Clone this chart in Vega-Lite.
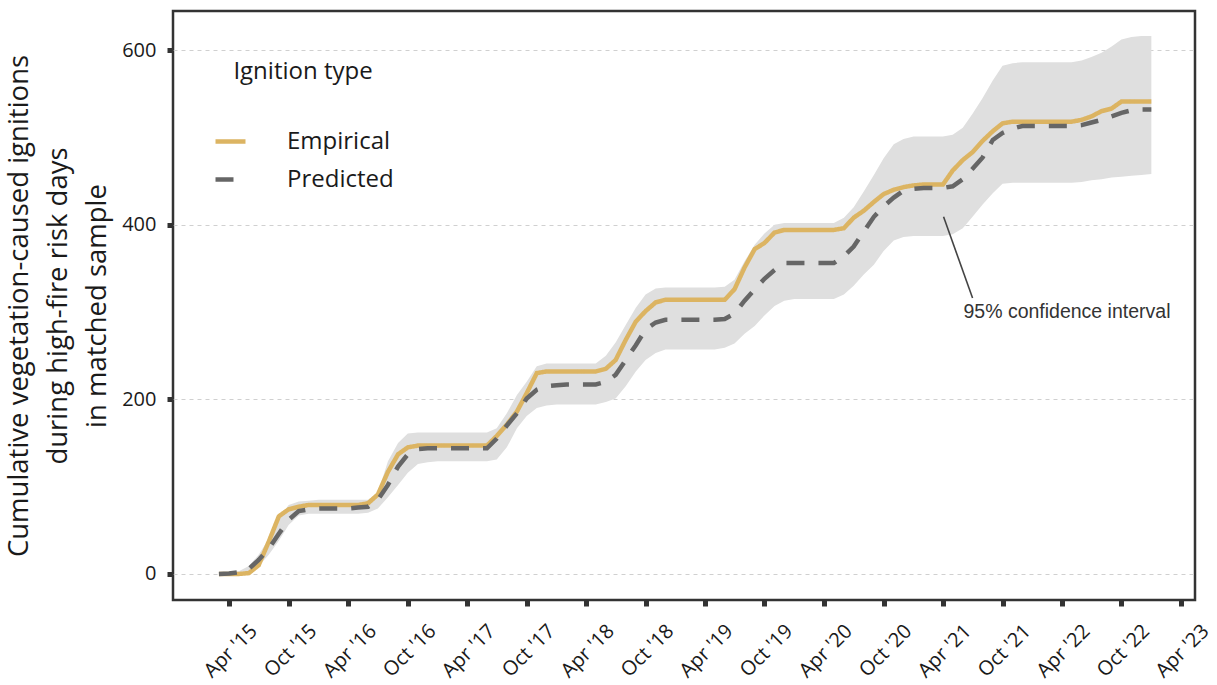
{
  "$schema": "https://vega.github.io/schema/vega-lite/v6.json",
  "width": 1022,
  "height": 589,
  "autosize": {"type": "none"},
  "padding": {"left": 173, "top": 11, "right": 22, "bottom": 85},
  "background": "white",
  "config": {
    "font": "Open Sans",
    "view": {"stroke": "#333333", "strokeWidth": 2.5},
    "axis": {
      "domain": false,
      "labelColor": "#1a1a1a",
      "labelFontSize": 20,
      "tickColor": "#333333",
      "tickSize": 6,
      "tickWidth": 5,
      "titleColor": "#1a1a1a"
    },
    "legend": {
      "orient": "none",
      "legendX": 40,
      "legendY": 49,
      "title": "Ignition type",
      "titleFontSize": 24,
      "titleFontWeight": "normal",
      "titleColor": "#1a1a1a",
      "titleAnchor": "middle",
      "titlePadding": 40,
      "labelFontSize": 24,
      "labelColor": "#1a1a1a",
      "labelOffset": 39,
      "symbolType": "stroke",
      "symbolSize": 900,
      "symbolStrokeWidth": 4.5,
      "rowPadding": 8
    }
  },
  "datasets": {
    "series": [
      {"month": "2015-03-01", "Empirical": 0, "Predicted": 0, "lower": 0, "upper": 0},
      {"month": "2015-04-01", "Empirical": 0, "Predicted": 0.5, "lower": 0, "upper": 1},
      {"month": "2015-05-01", "Empirical": 0, "Predicted": 2, "lower": 0, "upper": 3},
      {"month": "2015-06-01", "Empirical": 1, "Predicted": 6, "lower": 2, "upper": 9},
      {"month": "2015-07-01", "Empirical": 10, "Predicted": 16, "lower": 9, "upper": 22},
      {"month": "2015-08-01", "Empirical": 37, "Predicted": 29, "lower": 22, "upper": 40},
      {"month": "2015-09-01", "Empirical": 66, "Predicted": 46, "lower": 38, "upper": 63},
      {"month": "2015-10-01", "Empirical": 74, "Predicted": 62, "lower": 56, "upper": 79},
      {"month": "2015-11-01", "Empirical": 77, "Predicted": 72, "lower": 67, "upper": 83},
      {"month": "2015-12-01", "Empirical": 79, "Predicted": 74, "lower": 69, "upper": 84},
      {"month": "2016-01-01", "Empirical": 79, "Predicted": 75, "lower": 69, "upper": 85},
      {"month": "2016-02-01", "Empirical": 79, "Predicted": 75, "lower": 69, "upper": 85},
      {"month": "2016-03-01", "Empirical": 79, "Predicted": 75, "lower": 69, "upper": 85},
      {"month": "2016-04-01", "Empirical": 79, "Predicted": 75, "lower": 69, "upper": 85},
      {"month": "2016-05-01", "Empirical": 79, "Predicted": 76, "lower": 69, "upper": 85},
      {"month": "2016-06-01", "Empirical": 81, "Predicted": 77, "lower": 70, "upper": 85},
      {"month": "2016-07-01", "Empirical": 91, "Predicted": 85, "lower": 75, "upper": 93},
      {"month": "2016-08-01", "Empirical": 117, "Predicted": 102, "lower": 88, "upper": 129},
      {"month": "2016-09-01", "Empirical": 137, "Predicted": 123, "lower": 102, "upper": 150},
      {"month": "2016-10-01", "Empirical": 145, "Predicted": 137, "lower": 116, "upper": 161},
      {"month": "2016-11-01", "Empirical": 147, "Predicted": 143, "lower": 126, "upper": 162},
      {"month": "2016-12-01", "Empirical": 147, "Predicted": 144, "lower": 128, "upper": 162},
      {"month": "2017-01-01", "Empirical": 147, "Predicted": 144, "lower": 129, "upper": 162},
      {"month": "2017-02-01", "Empirical": 147, "Predicted": 144, "lower": 129, "upper": 162},
      {"month": "2017-03-01", "Empirical": 147, "Predicted": 144, "lower": 129, "upper": 162},
      {"month": "2017-04-01", "Empirical": 147, "Predicted": 144, "lower": 129, "upper": 162},
      {"month": "2017-05-01", "Empirical": 147, "Predicted": 144, "lower": 129, "upper": 162},
      {"month": "2017-06-01", "Empirical": 147, "Predicted": 144, "lower": 129, "upper": 162},
      {"month": "2017-07-01", "Empirical": 158, "Predicted": 155, "lower": 131, "upper": 167},
      {"month": "2017-08-01", "Empirical": 171, "Predicted": 170, "lower": 145, "upper": 184},
      {"month": "2017-09-01", "Empirical": 186, "Predicted": 184, "lower": 167, "upper": 205},
      {"month": "2017-10-01", "Empirical": 207, "Predicted": 201, "lower": 181, "upper": 220},
      {"month": "2017-11-01", "Empirical": 230, "Predicted": 211, "lower": 190, "upper": 238},
      {"month": "2017-12-01", "Empirical": 232, "Predicted": 215, "lower": 193, "upper": 241},
      {"month": "2018-01-01", "Empirical": 232, "Predicted": 216, "lower": 194, "upper": 241},
      {"month": "2018-02-01", "Empirical": 232, "Predicted": 217, "lower": 194, "upper": 241},
      {"month": "2018-03-01", "Empirical": 232, "Predicted": 217, "lower": 194, "upper": 241},
      {"month": "2018-04-01", "Empirical": 232, "Predicted": 217, "lower": 194, "upper": 241},
      {"month": "2018-05-01", "Empirical": 232, "Predicted": 217, "lower": 194, "upper": 241},
      {"month": "2018-06-01", "Empirical": 235, "Predicted": 220, "lower": 197, "upper": 250},
      {"month": "2018-07-01", "Empirical": 245, "Predicted": 228, "lower": 201, "upper": 265},
      {"month": "2018-08-01", "Empirical": 268, "Predicted": 245, "lower": 215, "upper": 285},
      {"month": "2018-09-01", "Empirical": 289, "Predicted": 262, "lower": 232, "upper": 305},
      {"month": "2018-10-01", "Empirical": 301, "Predicted": 280, "lower": 245, "upper": 320},
      {"month": "2018-11-01", "Empirical": 311, "Predicted": 288, "lower": 253, "upper": 327},
      {"month": "2018-12-01", "Empirical": 314, "Predicted": 291, "lower": 257, "upper": 328},
      {"month": "2019-01-01", "Empirical": 314, "Predicted": 291, "lower": 257, "upper": 328},
      {"month": "2019-02-01", "Empirical": 314, "Predicted": 291, "lower": 257, "upper": 328},
      {"month": "2019-03-01", "Empirical": 314, "Predicted": 291, "lower": 257, "upper": 328},
      {"month": "2019-04-01", "Empirical": 314, "Predicted": 291, "lower": 257, "upper": 328},
      {"month": "2019-05-01", "Empirical": 314, "Predicted": 291, "lower": 257, "upper": 328},
      {"month": "2019-06-01", "Empirical": 314, "Predicted": 292, "lower": 259, "upper": 329},
      {"month": "2019-07-01", "Empirical": 326, "Predicted": 298, "lower": 264, "upper": 337},
      {"month": "2019-08-01", "Empirical": 351, "Predicted": 313, "lower": 275, "upper": 358},
      {"month": "2019-09-01", "Empirical": 372, "Predicted": 326, "lower": 284, "upper": 377},
      {"month": "2019-10-01", "Empirical": 379, "Predicted": 338, "lower": 296, "upper": 390},
      {"month": "2019-11-01", "Empirical": 391, "Predicted": 348, "lower": 307, "upper": 400},
      {"month": "2019-12-01", "Empirical": 394, "Predicted": 356, "lower": 313, "upper": 402},
      {"month": "2020-01-01", "Empirical": 394, "Predicted": 356, "lower": 315, "upper": 402},
      {"month": "2020-02-01", "Empirical": 394, "Predicted": 356, "lower": 315, "upper": 402},
      {"month": "2020-03-01", "Empirical": 394, "Predicted": 356, "lower": 315, "upper": 402},
      {"month": "2020-04-01", "Empirical": 394, "Predicted": 356, "lower": 315, "upper": 402},
      {"month": "2020-05-01", "Empirical": 394, "Predicted": 356, "lower": 315, "upper": 402},
      {"month": "2020-06-01", "Empirical": 396, "Predicted": 364, "lower": 320, "upper": 408},
      {"month": "2020-07-01", "Empirical": 408, "Predicted": 375, "lower": 330, "upper": 420},
      {"month": "2020-08-01", "Empirical": 416, "Predicted": 392, "lower": 343, "upper": 438},
      {"month": "2020-09-01", "Empirical": 426, "Predicted": 409, "lower": 354, "upper": 457},
      {"month": "2020-10-01", "Empirical": 435, "Predicted": 421, "lower": 370, "upper": 476},
      {"month": "2020-11-01", "Empirical": 440, "Predicted": 431, "lower": 382, "upper": 492},
      {"month": "2020-12-01", "Empirical": 443, "Predicted": 439, "lower": 386, "upper": 498},
      {"month": "2021-01-01", "Empirical": 445, "Predicted": 441, "lower": 387, "upper": 501},
      {"month": "2021-02-01", "Empirical": 446, "Predicted": 442, "lower": 387, "upper": 501},
      {"month": "2021-03-01", "Empirical": 446, "Predicted": 442, "lower": 387, "upper": 501},
      {"month": "2021-04-01", "Empirical": 446, "Predicted": 442, "lower": 387, "upper": 501},
      {"month": "2021-05-01", "Empirical": 462, "Predicted": 444, "lower": 389, "upper": 503},
      {"month": "2021-06-01", "Empirical": 474, "Predicted": 452, "lower": 396, "upper": 511},
      {"month": "2021-07-01", "Empirical": 483, "Predicted": 464, "lower": 409, "upper": 527},
      {"month": "2021-08-01", "Empirical": 496, "Predicted": 477, "lower": 423, "upper": 545},
      {"month": "2021-09-01", "Empirical": 507, "Predicted": 497, "lower": 436, "upper": 565},
      {"month": "2021-10-01", "Empirical": 516, "Predicted": 505, "lower": 447, "upper": 582},
      {"month": "2021-11-01", "Empirical": 518, "Predicted": 510, "lower": 448, "upper": 585},
      {"month": "2021-12-01", "Empirical": 518, "Predicted": 513, "lower": 448, "upper": 586},
      {"month": "2022-01-01", "Empirical": 518, "Predicted": 513, "lower": 448, "upper": 586},
      {"month": "2022-02-01", "Empirical": 518, "Predicted": 513, "lower": 448, "upper": 586},
      {"month": "2022-03-01", "Empirical": 518, "Predicted": 513, "lower": 448, "upper": 586},
      {"month": "2022-04-01", "Empirical": 518, "Predicted": 513, "lower": 448, "upper": 586},
      {"month": "2022-05-01", "Empirical": 518, "Predicted": 513, "lower": 448, "upper": 586},
      {"month": "2022-06-01", "Empirical": 520, "Predicted": 514, "lower": 449, "upper": 588},
      {"month": "2022-07-01", "Empirical": 524, "Predicted": 517, "lower": 451, "upper": 592},
      {"month": "2022-08-01", "Empirical": 530, "Predicted": 520, "lower": 452, "upper": 597},
      {"month": "2022-09-01", "Empirical": 533, "Predicted": 524, "lower": 454, "upper": 604},
      {"month": "2022-10-01", "Empirical": 541, "Predicted": 528, "lower": 455, "upper": 612},
      {"month": "2022-11-01", "Empirical": 541, "Predicted": 531, "lower": 456, "upper": 615},
      {"month": "2022-12-01", "Empirical": 541, "Predicted": 532, "lower": 457, "upper": 616},
      {"month": "2023-01-01", "Empirical": 541, "Predicted": 532, "lower": 458, "upper": 616}
    ],
    "note": [
      {"from": "2021-04-03", "fromCount": 409, "to": "2021-07-01", "toCount": 316, "textAt": "2021-06-03", "textCount": 293, "label": "95% confidence interval"}
    ]
  },
  "layer": [
    {
      "data": {"name": "series"},
      "mark": {"type": "area", "color": "#dfdfdf", "opacity": 1},
      "encoding": {
        "x": {
          "field": "month",
          "type": "temporal",
          "scale": {
            "type": "utc",
            "domain": [
              {"year": 2014, "month": 10, "date": 11, "utc": true},
              {"year": 2023, "month": 5, "date": 15, "utc": true}
            ]
          },
          "axis": {
            "title": null,
            "grid": false,
            "format": "%b '%y",
            "labelAngle": -45,
            "labelAlign": "right",
            "labelBaseline": "top",
            "labelOffset": 17.5,
            "labelPadding": 14.5,
            "labelOverlap": false,
            "labelFlush": false,
            "labelBound": false,
            "values": [
              {"year": 2015, "month": 4, "date": 1, "utc": true},
              {"year": 2015, "month": 10, "date": 1, "utc": true},
              {"year": 2016, "month": 4, "date": 1, "utc": true},
              {"year": 2016, "month": 10, "date": 1, "utc": true},
              {"year": 2017, "month": 4, "date": 1, "utc": true},
              {"year": 2017, "month": 10, "date": 1, "utc": true},
              {"year": 2018, "month": 4, "date": 1, "utc": true},
              {"year": 2018, "month": 10, "date": 1, "utc": true},
              {"year": 2019, "month": 4, "date": 1, "utc": true},
              {"year": 2019, "month": 10, "date": 1, "utc": true},
              {"year": 2020, "month": 4, "date": 1, "utc": true},
              {"year": 2020, "month": 10, "date": 1, "utc": true},
              {"year": 2021, "month": 4, "date": 1, "utc": true},
              {"year": 2021, "month": 10, "date": 1, "utc": true},
              {"year": 2022, "month": 4, "date": 1, "utc": true},
              {"year": 2022, "month": 10, "date": 1, "utc": true},
              {"year": 2023, "month": 4, "date": 1, "utc": true}
            ]
          }
        },
        "y": {
          "field": "lower",
          "type": "quantitative",
          "scale": {"domain": [-29.8, 644.7], "nice": false, "zero": false},
          "axis": {
            "values": [0, 200, 400, 600],
            "labelPadding": 11,
            "grid": true,
            "gridColor": "#d0d0d0",
            "gridDash": [4, 4],
            "gridWidth": 1,
            "title": [
              "Cumulative vegetation-caused ignitions",
              "during high-fire risk days",
              "in matched sample"
            ],
            "titleFontSize": 27.5,
            "titleFontWeight": "normal",
            "titleLineHeight": 39,
            "titlePadding": 10
          }
        },
        "y2": {"field": "upper"}
      }
    },
    {
      "data": {"name": "series"},
      "transform": [{"fold": ["Empirical", "Predicted"], "as": ["type", "count"]}],
      "mark": {"type": "line", "strokeWidth": 4.5, "strokeCap": "butt"},
      "encoding": {
        "x": {"field": "month", "type": "temporal"},
        "y": {"field": "count", "type": "quantitative"},
        "color": {
          "field": "type",
          "type": "nominal",
          "scale": {"domain": ["Empirical", "Predicted"], "range": ["#dcb462", "#666666"]},
          "legend": {"title": "Ignition type"}
        },
        "strokeDash": {
          "field": "type",
          "type": "nominal",
          "scale": {"domain": ["Empirical", "Predicted"], "range": [[1, 0], [18, 14]]},
          "legend": {"title": "Ignition type"}
        }
      }
    },
    {
      "data": {"name": "note"},
      "mark": {"type": "rule", "color": "#444444", "strokeWidth": 1.6},
      "encoding": {
        "x": {"field": "from", "type": "temporal"},
        "y": {"field": "fromCount", "type": "quantitative"},
        "x2": {"field": "to"},
        "y2": {"field": "toCount"}
      }
    },
    {
      "data": {"name": "note"},
      "mark": {"type": "text", "font": "Liberation Sans", "fontSize": 19.5, "align": "left", "baseline": "alphabetic", "color": "#333333"},
      "encoding": {
        "x": {"field": "textAt", "type": "temporal"},
        "y": {"field": "textCount", "type": "quantitative"},
        "text": {"field": "label"}
      }
    }
  ]
}
